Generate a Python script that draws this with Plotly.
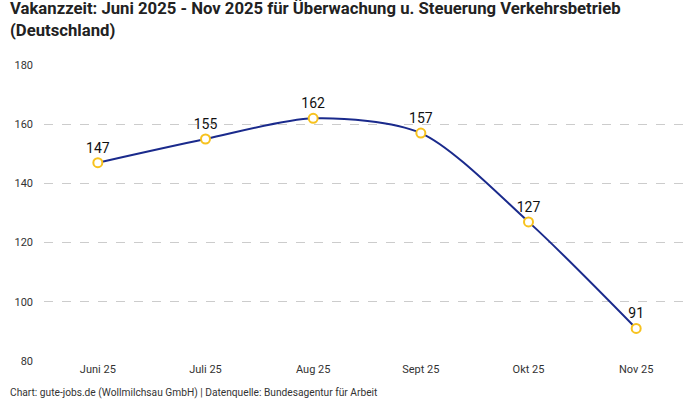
import plotly.graph_objects as go

months = ['Juni 25', 'Juli 25', 'Aug 25', 'Sept 25', 'Okt 25', 'Nov 25']
vakanzzeit = [147, 155, 162, 157, 127, 91]
y_ticks = [80, 100, 120, 140, 160, 180]

title_text = ('<b>Vakanzzeit: Juni 2025 - Nov 2025 für Überwachung u. Steuerung Verkehrsbetrieb'
              '<br>(Deutschland)</b>')
source_text = 'Chart: gute-jobs.de (Wollmilchsau GmbH) | Datenquelle: Bundesagentur für Arbeit'

fig = go.Figure()

fig.add_trace(go.Scatter(
    x=months,
    y=vakanzzeit,
    mode='lines+markers+text',
    line=dict(color='#1a2a8c', width=2, shape='spline', smoothing=0.8),
    marker=dict(size=9, color='white', line=dict(color='#f7c21e', width=2)),
    text=[str(v) for v in vakanzzeit],
    textposition='top center',
    textfont=dict(size=14, color='#111111', family='Roboto'),
    cliponaxis=False,
    hoverinfo='skip',
))

fig.update_layout(
    xaxis=dict(
        showgrid=False,
        showline=False,
        zeroline=False,
        tickfont=dict(size=11, color='#333333'),
        range=[-0.5, 5.5],
    ),
    yaxis=dict(
        range=[80, 180],
        tickvals=y_ticks,
        showgrid=True,
        gridcolor='#cccccc',
        griddash='dash',
        gridwidth=1,
        zeroline=False,
        showline=False,
        tickfont=dict(size=11, color='#333333'),
        ticklabelstandoff=10,
    ),
    annotations=[
        dict(
            text=title_text,
            xref='paper', yref='paper', x=-0.055, y=1.155,
            xanchor='left', yanchor='middle', align='left', showarrow=False,
            font=dict(size=16.7, color='#222222', family='Roboto'),
        ),
        dict(
            text=source_text,
            xref='paper', yref='paper', x=-0.055, y=-0.108,
            xanchor='left', yanchor='middle', showarrow=False,
            font=dict(size=10.2, color='#333333'),
        ),
    ],
    font=dict(family='Roboto'),
    plot_bgcolor='white',
    paper_bgcolor='white',
    showlegend=False,
    width=700,
    height=400,
    margin=dict(l=44, r=10, t=65, b=39),
)

# drop the default 8px page margin so the figure fills the window
fig.write_html('out.html', config={'displayModeBar': False},
               post_script="document.body.style.margin = '0';")
